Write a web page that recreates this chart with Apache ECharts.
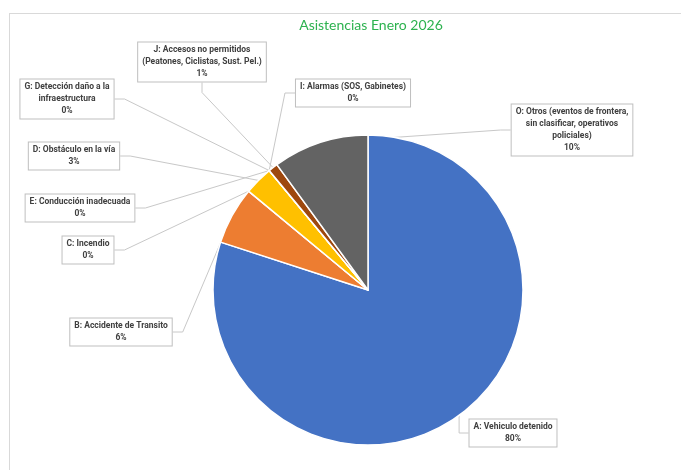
<!DOCTYPE html>
<html>
<head>
<meta charset="utf-8">
<script src="https://cdn.jsdelivr.net/npm/echarts@6/dist/echarts.min.js"></script>
<style>
html,body{margin:0;padding:0;background:#fff;}
#chart{width:681px;height:470px;}
</style>
</head>
<body>
<div id="chart"></div>
<script>
// Data
var categories = [
  "A: Vehiculo detenido",
  "B: Accidente de Transito",
  "C: Incendio",
  "D: Obstáculo en la vía",
  "E: Conducción inadecuada",
  "G: Detección daño a la\ninfraestructura",
  "I: Alarmas (SOS, Gabinetes)",
  "J: Accesos no permitidos\n(Peatones, Ciclistas, Sust. Pel.)",
  "O: Otros (eventos de frontera,\nsin clasificar, operativos\npoliciales)"
];
var values = [80, 6, 0, 3, 0, 0, 0, 1, 10];
var percentLabels = ["80%", "6%", "0%", "3%", "0%", "0%", "0%", "1%", "10%"];

// Styling / layout (not data)
var colors = ["#4472C4", "#ED7D31", "#A5A5A5", "#FFC000", "#5B9BD5", "#70AD47", "#264478", "#9E480E", "#636363"];
var labelCenters = [
  [513, 433], [121, 332], [88, 250], [74, 156], [80, 208],
  [67, 99], [353, 93], [202, 62], [572, 130]
];

var FONT = "Roboto, 'Liberation Sans', sans-serif";

var chart = echarts.init(document.getElementById('chart'), null, {renderer: 'canvas'});
var option = {
  animation: false,
  backgroundColor: '#ffffff',
  title: {
    text: 'Asistencias Enero 2026',
    left: 366,
    top: 13,
    textAlign: 'center',
    textStyle: {color: '#2DB24F', fontSize: 14, fontWeight: 'normal', fontFamily: "Lato, 'Liberation Sans', sans-serif"}
  },
  graphic: [
    {type: 'line', shape: {x1: 9, y1: 13.5, x2: 681, y2: 13.5}, style: {stroke: '#d9d9d9', lineWidth: 1}},
    {type: 'line', shape: {x1: 9.5, y1: 13, x2: 9.5, y2: 470}, style: {stroke: '#d9d9d9', lineWidth: 1}}
  ],
  series: [{
    type: 'pie',
    center: [368, 290],
    radius: [0, 155],
    startAngle: 90,
    clockwise: true,
    avoidLabelOverlap: false,
    minShowLabelAngle: 0,
    itemStyle: {borderColor: '#ffffff', borderWidth: 1.5},
    label: {
      show: true,
      position: 'outside',
      formatter: function (p) { return p.name + '\n' + percentLabels[p.dataIndex]; },
      color: '#404040',
      fontSize: 8.5,
      fontWeight: 'bold',
      fontFamily: FONT,
      lineHeight: 12,
      align: 'center',
      backgroundColor: '#ffffff',
      borderColor: '#bfbfbf',
      borderWidth: 1,
      padding: [2, 4, 1, 4]
    },
    labelLine: {show: true, length: 10, length2: 10, smooth: false, lineStyle: {color: '#c8c8c8', width: 1}},
    labelLayout: function (params) {
      var c = labelCenters[params.dataIndex];
      return {x: c[0], y: c[1], align: 'center', verticalAlign: 'middle'};
    },
    data: categories.map(function (n, i) {
      return {name: n, value: values[i], itemStyle: {color: colors[i]}};
    })
  }]
};
chart.setOption(option);
</script>
</body>
</html>
